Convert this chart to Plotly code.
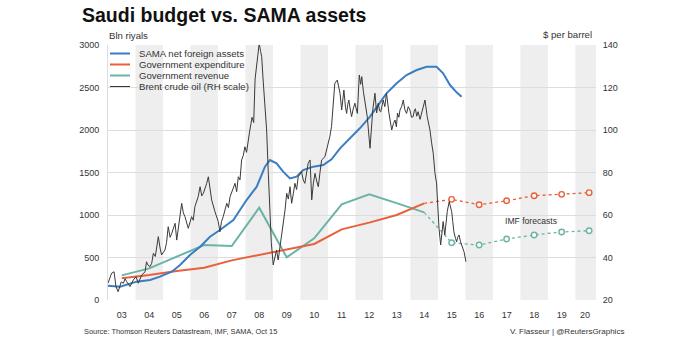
import plotly.graph_objects as go

# ---------------- data ----------------
years = [2003, 2004, 2005, 2006, 2007, 2008, 2009, 2010, 2011, 2012, 2013, 2014]
revenue = [290, 372, 510, 647, 635, 1086, 502, 726, 1126, 1243, 1140, 1031]
expenditure = [257, 294, 340, 380, 466, 529, 596, 659, 831, 910, 1000, 1137]

fc_years = [2014, 2015, 2016, 2017, 2018, 2019, 2020]
fc_revenue = [1031, 674, 647, 718, 765, 800, 815]
fc_expenditure = [1137, 1184, 1121, 1168, 1227, 1243, 1263]

sama_t = [2003.0, 2003.44, 2004.04, 2004.53, 2004.89, 2005.32, 2005.62, 2005.98,
          2006.35, 2006.71, 2007.07, 2007.56, 2008.04, 2008.41, 2008.71, 2008.89,
          2009.13, 2009.37, 2009.62, 2009.86, 2010.10, 2010.47, 2010.83, 2011.13,
          2011.44, 2011.80, 2012.16, 2012.53, 2012.89, 2013.13, 2013.50, 2013.86,
          2014.23, 2014.59, 2014.95, 2015.19, 2015.44, 2015.68, 2015.86]
sama_v = [168, 157, 216, 235, 275, 333, 412, 529,
          627, 745, 824, 941, 1176, 1333, 1569, 1647,
          1608, 1510, 1431, 1451, 1529, 1569, 1588, 1655,
          1784, 1902, 2020, 2157, 2314, 2431, 2549, 2647,
          2706, 2745, 2745, 2667, 2529, 2443, 2392]

oil_t = [2003.0, 2003.13, 2003.22, 2003.29, 2003.37, 2003.48, 2003.56, 2003.62, 2003.68, 2003.80, 2003.92,
         2004.02, 2004.10, 2004.17, 2004.23, 2004.35, 2004.40, 2004.45, 2004.53, 2004.59, 2004.65,
         2004.72, 2004.83, 2004.90, 2004.95,
         2005.07, 2005.13, 2005.19, 2005.26, 2005.32, 2005.44, 2005.50, 2005.62, 2005.68, 2005.74,
         2005.80, 2005.92,
         2006.04, 2006.10, 2006.16, 2006.28, 2006.35, 2006.41, 2006.47, 2006.59, 2006.65, 2006.77,
         2006.83, 2006.89,
         2007.01, 2007.07, 2007.13, 2007.19, 2007.32, 2007.38, 2007.44, 2007.53, 2007.62, 2007.68,
         2007.74, 2007.80, 2007.86, 2007.92, 2007.98,
         2008.04, 2008.10, 2008.16, 2008.24, 2008.30, 2008.35, 2008.42, 2008.50, 2008.55, 2008.59,
         2008.64, 2008.71, 2008.77, 2008.83, 2008.89, 2008.94, 2009.01, 2009.13, 2009.19, 2009.26,
         2009.32, 2009.44, 2009.50, 2009.56, 2009.62, 2009.68, 2009.74, 2009.80, 2009.86, 2009.92,
         2010.04, 2010.10, 2010.16, 2010.28, 2010.35, 2010.41, 2010.47, 2010.53, 2010.59, 2010.65,
         2010.71, 2010.77, 2010.89, 2011.01, 2011.07, 2011.13, 2011.25, 2011.34,
         2011.40, 2011.44, 2011.50, 2011.54, 2011.58, 2011.64, 2011.68, 2011.72, 2011.76, 2011.82,
         2011.86, 2011.92, 2011.98, 2012.07, 2012.14, 2012.19, 2012.23, 2012.29, 2012.35, 2012.43,
         2012.53, 2012.58, 2012.63, 2012.71, 2012.77, 2012.83, 2012.88, 2012.92, 2013.01,
         2013.07, 2013.13, 2013.22, 2013.32, 2013.38, 2013.44, 2013.49, 2013.53, 2013.58, 2013.62,
         2013.68, 2013.74, 2013.80, 2013.86, 2013.92, 2013.98, 2014.04, 2014.10, 2014.14, 2014.18,
         2014.23, 2014.28, 2014.35, 2014.41, 2014.47, 2014.53, 2014.61,
         2014.71, 2014.77, 2014.83, 2014.89, 2014.95, 2015.04, 2015.10, 2015.15, 2015.19, 2015.25,
         2015.30, 2015.34, 2015.41, 2015.46, 2015.50, 2015.54, 2015.58, 2015.64, 2015.68, 2015.72,
         2015.77, 2015.82, 2015.86, 2015.91, 2015.95, 2016.02]
oil_v = [27.9, 32.6, 33.3, 26.3, 23.9, 28.5, 27.9, 30.0, 28.6, 26.3, 29.4,
         31.0, 27.9, 30.5, 31.8, 33.3, 38.0, 36.5, 35.7, 37.3, 42.0,
         40.5, 49.8, 44.0, 41.2,
         43.5, 47.0, 54.5, 49.5, 51.4, 56.1, 48.2, 60.8, 65.5, 61.0,
         59.2, 53.7,
         59.2, 57.5, 63.9, 68.6, 73.3, 69.0, 70.2, 74.9, 78.0, 67.1,
         64.0, 61.6,
         56.9, 52.1, 57.0, 59.2, 65.5, 63.5, 68.6, 72.0, 74.9, 71.0,
         78.0, 76.5, 85.9, 88.0, 92.1,
         89.5, 95.3, 100.0, 106.0, 103.5, 124.0, 132.0, 140.8, 137.0, 134.5,
         124.0, 112.0, 100.0, 80.0, 60.0, 47.0, 36.5, 43.5, 38.8, 45.0,
         51.4, 62.4, 70.2, 67.5, 73.3, 65.5, 70.0, 74.9, 72.0, 78.0,
         80.4, 76.5, 74.9, 84.3, 85.9, 67.1, 75.0, 79.6, 76.0, 73.3,
         80.0, 85.9, 87.4, 93.7, 97.0, 101.6, 122.0, 123.5,
         119.0, 117.3, 109.4, 116.0, 118.8, 110.5, 107.8, 112.0, 114.1, 109.0,
         106.3, 110.0, 112.6, 107.8, 125.9, 121.5, 125.1, 118.0, 112.6, 106.3,
         91.4, 100.0, 109.4, 117.3, 108.0, 112.6, 109.0, 108.5, 114.1,
         111.0, 117.3, 107.8, 100.0, 103.0, 104.7, 101.5, 108.0, 106.0, 109.4,
         111.0, 114.1, 109.5, 107.8, 111.0, 109.4, 106.0, 106.3, 109.0, 110.0,
         106.5, 108.6, 105.0, 107.8, 111.0, 114.1, 106.3,
         100.0, 94.0, 89.0, 80.0, 75.0, 53.7, 45.9, 52.0, 56.9, 50.6,
         58.0, 61.6, 66.3, 63.0, 61.6, 57.0, 52.1, 49.0, 47.4, 49.5,
         50.6, 47.5, 45.9, 44.5, 42.7, 38.0]

tick_vals = [2003.5 + i for i in range(17)] + [2020.35]
tick_text = ["03", "04", "05", "06", "07", "08", "09", "10", "11", "12",
             "13", "14", "15", "16", "17", "18", "19", "20"]
shade_years = [2004, 2006, 2008, 2010, 2012, 2014, 2016, 2018, 2020]

legend_names = ["SAMA net foreign assets", "Government expenditure",
                "Government revenue", "Brent crude oil (RH scale)"]

# ---------------- style ----------------
BLUE = "#3a7dc0"
RED = "#e8603c"
TEAL = "#6bb3a7"
OIL = "#3a3a3a"
FONT = "Liberation Sans, Arial, sans-serif"
X0, X1 = 2003.0, 2020.75

W, H = 692, 338
L, R, T, B = 108, 596, 45, 300


def px(xp):
    return (xp - L) / (R - L)


def py(yp):
    return (B - yp) / (B - T)


fig = go.Figure()

mid = [y + 0.5 for y in years]
fc_mid = [y + 0.5 for y in fc_years]

fig.add_trace(go.Scatter(x=oil_t, y=oil_v, yaxis="y2", mode="lines",
                         line=dict(color=OIL, width=1), name=legend_names[3]))
fig.add_trace(go.Scatter(x=mid, y=revenue, mode="lines",
                         line=dict(color=TEAL, width=2), name=legend_names[2]))
fig.add_trace(go.Scatter(x=mid, y=expenditure, mode="lines",
                         line=dict(color=RED, width=2), name=legend_names[1]))
fig.add_trace(go.Scatter(x=fc_mid, y=fc_revenue, mode="lines",
                         line=dict(color=TEAL, width=1.3, dash="dot"), showlegend=False))
fig.add_trace(go.Scatter(x=fc_mid, y=fc_expenditure, mode="lines",
                         line=dict(color=RED, width=1.3, dash="dot"), showlegend=False))
fig.add_trace(go.Scatter(x=fc_mid[1:], y=fc_revenue[1:], mode="markers",
                         marker=dict(symbol="circle", size=5.5, color="white",
                                     line=dict(width=1.4, color=TEAL)), showlegend=False))
fig.add_trace(go.Scatter(x=fc_mid[1:], y=fc_expenditure[1:], mode="markers",
                         marker=dict(symbol="circle", size=5.5, color="white",
                                     line=dict(width=1.4, color=RED)), showlegend=False))
fig.add_trace(go.Scatter(x=sama_t, y=sama_v, mode="lines",
                         line=dict(color=BLUE, width=2), name=legend_names[0]))

shapes = []
for y0 in shade_years:
    shapes.append(dict(type="rect", xref="x", yref="paper", x0=y0, x1=min(y0 + 1, X1),
                       y0=0, y1=1, fillcolor="#eeeeee", line=dict(width=0), layer="below"))

# manual legend
leg_colors = [BLUE, RED, TEAL, OIL]
leg_w = [2, 2, 2, 1]
leg_y = [53.5, 64.5, 75.5, 86.5]
annotations = []
for name, c, w, yy in zip(legend_names, leg_colors, leg_w, leg_y):
    shapes.append(dict(type="line", xref="paper", yref="paper", x0=px(110), x1=px(130),
                       y0=py(yy), y1=py(yy), line=dict(color=c, width=w)))
    annotations.append(dict(text=name, xref="paper", yref="paper", x=px(137), y=py(yy),
                            xanchor="left", yanchor="middle", showarrow=False,
                            font=dict(size=9.6, color="#333333", family=FONT)))

annotations += [
    dict(text="Bln riyals", xref="paper", yref="paper", x=px(107), y=py(36),
         xanchor="left", yanchor="middle", showarrow=False,
         font=dict(size=9.6, color="#333333", family=FONT)),
    dict(text="$ per barrel", xref="paper", yref="paper", x=px(594), y=py(35),
         xanchor="right", yanchor="middle", showarrow=False,
         font=dict(size=9.6, color="#333333", family=FONT)),
    dict(text="IMF forecasts", xref="x", yref="y", x=2018.38, y=929,
         xanchor="center", yanchor="middle", showarrow=False,
         font=dict(size=8.6, color="#333333", family=FONT)),
    dict(text="Source: Thomson Reuters Datastream, IMF, SAMA, Oct 15", xref="paper",
         yref="paper", x=px(82), y=py(331), xanchor="left", yanchor="middle",
         showarrow=False, font=dict(size=7.4, color="#333333", family=FONT)),
    dict(text="V. Flasseur | @ReutersGraphics", xref="paper",
         yref="paper", x=px(626), y=py(331), xanchor="right", yanchor="middle",
         showarrow=False, font=dict(size=8, color="#333333", family=FONT)),
]

fig.update_layout(
    width=W, height=H,
    margin=dict(l=L, r=W - R, t=T, b=H - B),
    paper_bgcolor="white", plot_bgcolor="white",
    showlegend=False,
    title=dict(text="<b>Saudi budget vs. SAMA assets</b>", x=82 / W, xanchor="left",
               y=1 - 15 / H, yanchor="middle",
               font=dict(size=19.5, color="#111111", family=FONT)),
    xaxis=dict(range=[X0, X1], tickvals=tick_vals, ticktext=tick_text,
               showgrid=False, zeroline=False, showline=False, ticks="outside",
               ticklen=6, tickcolor="rgba(0,0,0,0)",
               tickfont=dict(size=9, color="#333333", family=FONT)),
    yaxis=dict(range=[0, 3000], tickvals=[0, 500, 1000, 1500, 2000, 2500, 3000],
               showgrid=True, gridcolor="#dddddd", gridwidth=1, zeroline=False,
               showline=True, linecolor="#dddddd", linewidth=1,
               ticks="outside", ticklen=6, tickcolor="rgba(0,0,0,0)",
               tickfont=dict(size=9, color="#333333", family=FONT)),
    yaxis2=dict(range=[20, 140], tickvals=[20, 40, 60, 80, 100, 120, 140],
                overlaying="y", side="right", showgrid=False, zeroline=False,
                showline=False, ticks="outside", ticklen=4, tickcolor="rgba(0,0,0,0)",
                tickfont=dict(size=9, color="#333333", family=FONT)),
    shapes=shapes,
    annotations=annotations,
)

fig.write_html("out.html")
